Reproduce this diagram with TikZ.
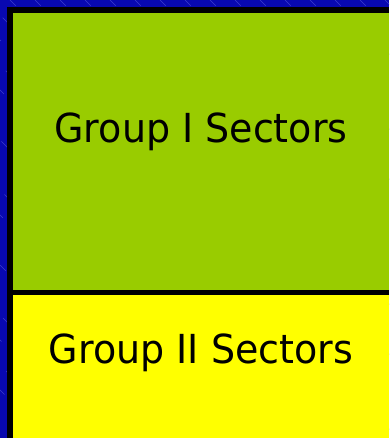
\documentclass[tikz,border=0pt]{standalone}
\usepackage{fontspec}
\setmainfont{DejaVu Sans}
\definecolor{deepblue}{RGB}{8,8,176}
\definecolor{hatchblue}{RGB}{60,60,205}
\definecolor{sectorgreen}{RGB}{153,204,0}
\definecolor{sectoryellow}{RGB}{255,255,0}
\begin{document}
\begin{tikzpicture}[x=1pt,y=-1pt,
  label/.style={font=\fontsize{40}{44}\selectfont,text=black,inner sep=0pt,anchor=base}]
\useasboundingbox (0,0) rectangle (389,438);
% blue backdrop with faint diagonal hatching
\fill[deepblue] (0,0) rectangle (389,438);
\begin{scope}
  \clip (0,0) rectangle (389,438);
  \foreach \k in {-440,-415,...,400}
    \draw[hatchblue,line width=0.5pt,dash pattern=on 8pt off 17pt]
      (\k,0) -- ++(440,440);
\end{scope}
% black frame
\fill[black] (7,7.5) rectangle (389,438);
% the two sector panels
\fill[sectorgreen] (13,13) rectangle (389,290);
\fill[sectoryellow] (13,295) rectangle (389,438);
\node[label] (g1) at (201,143) {\scalebox{0.95}[1]{Group I Sectors}};
\node[label] (g2) at (201,363) {\scalebox{0.95}[1]{Group II Sectors}};
\end{tikzpicture}
\end{document}
